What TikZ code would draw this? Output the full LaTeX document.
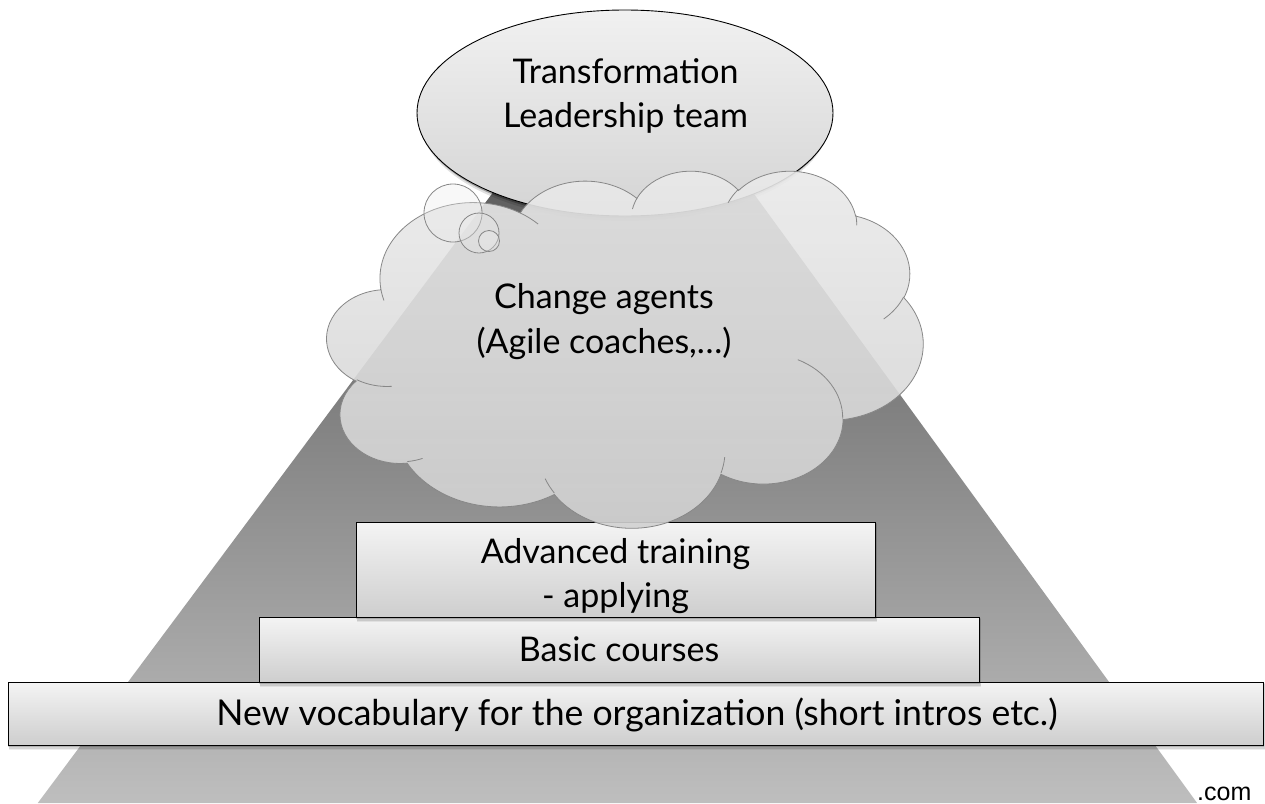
\documentclass[tikz,border=0pt]{standalone}
\usepackage{fontspec}
\setmainfont{Lato}
\newfontfamily\urlfont{Liberation Sans}
\usetikzlibrary{shapes.geometric}

\definecolor{pyrtop}{RGB}{68,68,68}
\definecolor{pyrbot}{RGB}{190,190,190}
\definecolor{boxtop}{RGB}{244,244,244}
\definecolor{boxbot}{RGB}{206,206,206}
\definecolor{elltop}{RGB}{241,241,241}
\definecolor{ellbot}{RGB}{212,212,212}
\definecolor{cloudtop}{RGB}{234,234,234}
\definecolor{cloudbot}{RGB}{208,208,208}
\definecolor{cloudline}{RGB}{135,135,135}

% elliptical arc given by radii, start angle and sweep measured as visual angles
\tikzset{
  oarc/.style n args={4}{insert path={
    arc[start angle={atan2(#1*sin(#3),#2*cos(#3))},
        delta angle={mod(atan2(#1*sin(#3+#4),#2*cos(#3+#4))-atan2(#1*sin(#3),#2*cos(#3))+720,360)},
        x radius=#1, y radius=#2]}},
  lbl/.style={anchor=base, inner sep=0pt, text=black, font=\fontsize{34}{40}\selectfont},
  biglbl/.style={lbl, font=\fontsize{35.6}{42}\selectfont},
  stepbox/.style={rectangle, draw=black, line width=0.9pt, inner sep=0pt,
    top color=boxtop, bottom color=boxbot},
  softshade/.style={fill=black, opacity=#1},
}

% soft drop shadow under a box: x1 y1 x2 y2
\newcommand\boxshadow[4]{%
  \fill[softshade=.07] (#1+1,#2+2) rectangle (#3+2,#4+5);
  \fill[softshade=.10] (#1+1,#2+1) rectangle (#3+1.5,#4+3.5);
  \fill[softshade=.16] (#1,#2) rectangle (#3+1,#4+2);
}

\begin{document}
\begin{tikzpicture}[x=1pt, y=-1pt]
\useasboundingbox (0,0) rectangle (1265,803);

% footer text, partly behind the pyramid
\node[anchor=base west, inner sep=0pt, font=\urlfont\fontsize{25}{30}\selectfont] (url) at (1197,800) {.com};

% pyramid
\coordinate (apex) at (624.5,16);
\coordinate (bl) at (37.8,803);
\coordinate (br) at (1197.1,803);
\path[top color=pyrtop, bottom color=pyrbot] (apex) -- (bl) -- (br) -- cycle;

% steps of the pyramid
\boxshadow{8}{682}{1263}{745}
\node[stepbox, minimum width=1255, minimum height=63] (vocab) at (635.5,713.5) {};
\boxshadow{259}{617}{979}{682}
\node[stepbox, minimum width=720, minimum height=65] (basic) at (619,649.5) {};
\boxshadow{356}{522}{875}{617}
\node[stepbox, minimum width=519, minimum height=95] (adv) at (615.5,569.5) {};

\node[biglbl] (v1) at (637,725) {New vocabulary for the organization (short intros etc.)};
\node[lbl] (b1) at (619,661) {Basic courses};
\node[lbl] (a1) at (615.5,563) {Advanced training};
\node[lbl] (a2) at (615.5,607) {- applying};

% leadership ellipse with its shadow below
\fill[softshade=.12] (625,119) ellipse [x radius=205, y radius=102];
\fill[softshade=.28] (625,116) ellipse [x radius=206, y radius=102.5];
\node[ellipse, draw=black, line width=0.9pt, inner sep=0pt, minimum width=416, minimum height=206,
      top color=elltop, bottom color=ellbot] (lead) at (625,113) {};
\node[lbl] (t1) at (625.5,83) {Transformation};
\node[lbl] (t2) at (625.5,127) {Leadership team};

% cloud callout
\begin{scope}[shift={(327,170)}, x=1.37963pt, y=-0.826389pt]
  \path[draw=cloudline, line width=0.8pt, top color=cloudtop, bottom color=cloudbot, fill opacity=0.9]
    (39.00,143.70)
    [oarc={67.53}{91.90}{-190.4875}{123.7805}]
    [oarc={53.33}{72.67}{-144.1024}{89.9452}]
    [oarc={43.65}{59.45}{-145.8079}{99.7230}]
    [oarc={48.57}{65.95}{-130.9861}{117.2417}]
    [oarc={53.33}{72.73}{-78.7089}{109.0269}]
    [oarc={67.75}{92.20}{-46.2673}{130.2690}]
    [oarc={57.85}{78.67}{0.6250}{114.0333}]
    [oarc={67.52}{92.15}{22.4516}{115.1726}]
    [oarc={77.20}{105.43}{66.2426}{75.7110}]
    [oarc={43.60}{59.18}{-274.9421}{146.7356}]
    [oarc={43.45}{59.45}{-246.8285}{152.5189}]
    -- cycle;
  % inner fold lines of the cloud
  \draw[cloudline, line width=0.8pt]
    (46.93,261.77) [oarc={43.45}{59.45}{86.742}{26.4295}]
    (69.28,348.99) [oarc={43.60}{59.18}{73.6105}{11.4475}]
    (164.78,390.90) [oarc={67.52}{92.15}{137.6242}{14.0811}]
    (288.27,347.51) [oarc={67.52}{92.15}{6.4533}{15.9984}]
    (341.29,229.54) [oarc={57.85}{78.67}{-70.2924}{70.9174}]
    (417.98,153.54) [oarc={53.33}{72.73}{30.3180}{27.7515}]
    (383.24,54.26) [oarc={48.57}{65.95}{-13.7443}{14.8621}]
    (290.78,39.52) [oarc={48.57}{65.95}{-149.1815}{18.1842}]
    (221.41,47.20) [oarc={43.65}{59.45}{-163.4943}{17.6954}]
    (140.00,51.92) [oarc={67.53}{91.90}{-66.7070}{12.3194}]
    (41.27,157.89) [oarc={67.53}{91.90}{157.6544}{11.8582}];
\end{scope}

% thought bubbles of the callout
\draw[cloudline, line width=0.8pt, fill=cloudtop, fill opacity=0.35] (453,213) circle [radius=29];
\draw[cloudline, line width=0.8pt, fill=cloudtop, fill opacity=0.35] (479,233) circle [radius=20];
\draw[cloudline, line width=0.8pt, fill=cloudtop, fill opacity=0.35] (489,241) circle [radius=10.5];

\node[lbl] (c1) at (604,308) {Change agents};
\node[lbl] (c2) at (604,353) {(Agile coaches,…)};
\end{tikzpicture}
\end{document}
